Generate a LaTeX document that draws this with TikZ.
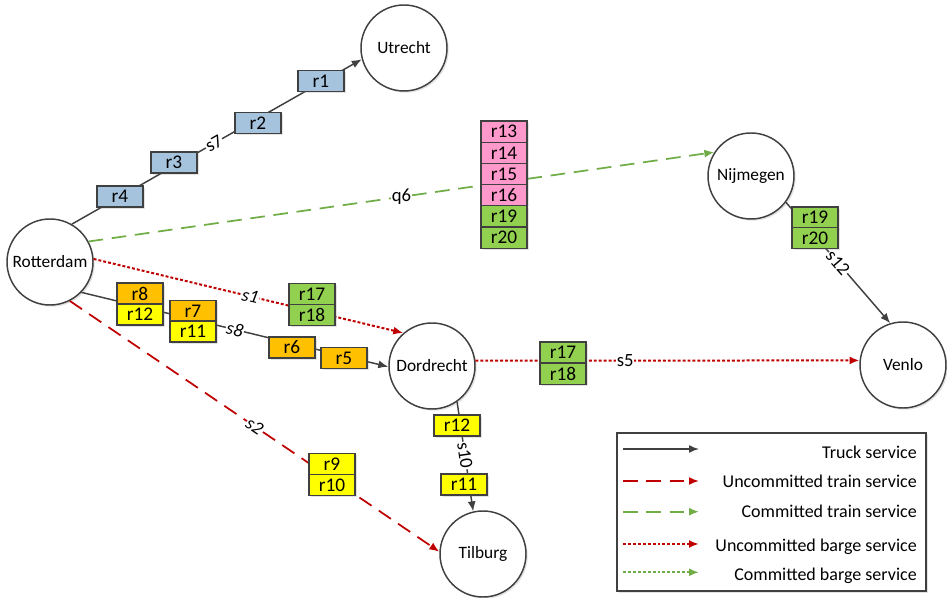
\documentclass[tikz,border=0pt]{standalone}
\usepackage{fontspec}
\setmainfont{Carlito}
\usetikzlibrary{arrows.meta,shadows}
\definecolor{ink}{HTML}{404040}
\definecolor{ured}{HTML}{C00000}
\definecolor{cgreen}{HTML}{70AD47}
\definecolor{rblue}{HTML}{A6C3DE}
\definecolor{rorange}{HTML}{FFC000}
\definecolor{ryellow}{HTML}{FFFF00}
\definecolor{rgreen}{HTML}{92D050}
\definecolor{rpink}{HTML}{FF99CC}
\begin{document}
\begin{tikzpicture}[x=0.75pt,y=-0.75pt,
  softshadow/.style={drop shadow={shadow xshift=1.3pt,shadow yshift=-1.3pt,opacity=0.22}},
  city/.style={circle,draw=ink,line width=1.1pt,fill=white,minimum size=64.5pt,
    inner sep=0pt,font=\fontsize{13}{15}\selectfont,softshadow},
  req/.style={draw=ink,line width=0.9pt,minimum width=34.5pt,minimum height=15.8pt,
    inner sep=0pt,font=\fontsize{14.5}{16}\selectfont,softshadow},
  blue/.style={req,fill=rblue},
  orange/.style={req,fill=rorange},
  yellow/.style={req,fill=ryellow},
  green/.style={req,fill=rgreen},
  pink/.style={req,fill=rpink},
  arr/.style={-{Latex[length=7.5pt,width=6pt]}},
  truck/.style={draw=ink,line width=1.1pt,arr},
  utrain/.style={draw=ured,line width=1.3pt,dash pattern=on 11pt off 6.5pt,arr},
  ctrain/.style={draw=cgreen,line width=1.3pt,dash pattern=on 11pt off 6.5pt,arr},
  ubarge/.style={draw=ured,line width=1.5pt,dash pattern=on 2.2pt off 1.5pt,arr},
  cbarge/.style={draw=cgreen,line width=1.5pt,dash pattern=on 2.2pt off 1.5pt,arr},
  lbl/.style={fill=white,inner sep=0.6pt,font=\fontsize{14}{16}\selectfont},
  legtext/.style={anchor=east,inner sep=0pt,font=\fontsize{13.5}{16}\selectfont},
]
\useasboundingbox (0,0) rectangle (947,598);

% terminals
\node[city] (rot) at (50,262)  {Rotterdam};
\node[city] (utr) at (404,48)  {Utrecht};
\node[city] (nij) at (751,176) {Nijmegen};
\node[city] (dor) at (432,366) {Dordrecht};
\node[city] (ven) at (903,365) {Venlo};
\node[city] (til) at (483,554) {Tilburg};

% services
\draw[truck]  (rot.60)  -- node[lbl,sloped,pos=0.49] {s7} (utr.195);
\draw[ctrain] (rot.28)  -- node[lbl,pos=0.5] {q6} (nij.147);
\draw[ubarge] (rot.4)   -- node[lbl,sloped,pos=0.506] {\itshape s1} (dor.131);
\draw[truck]  (rot.-44) -- node[lbl,sloped,pos=0.5] {\itshape s8} (dor.181);
\draw[utrain] (rot.-63) -- node[lbl,sloped,pos=0.5] {\itshape s2} (til.177);
\draw[ubarge] (dor.7)   -- node[lbl,pos=0.39] {s5} (ven.174);
\draw[truck]  (dor.-55) -- node[lbl,sloped,pos=0.49] {s10} (til.103);
\draw[truck]  (nij.-37) -- node[lbl,sloped,pos=0.5] {s12} (ven.107);

% requests on s7
\node[blue] (r1) at (321,81) {r1};
\node[blue] (r2) at (258,123) {r2};
\node[blue] (r3) at (174,162.5) {r3};
\node[blue] (r4) at (120,196.5) {r4};

% requests on s8
\node[orange] (r8)  at (140,293.5) {r8};
\node[yellow] (r12a) at (140,314.5) {r12};
\node[orange] (r7)  at (193,311) {r7};
\node[yellow] (r11a) at (193,331.5) {r11};
\node[orange] (r6)  at (292,347.5) {r6};
\node[orange] (r5)  at (344,358) {r5};

% requests on s1
\node[green] (r17a) at (312,294) {r17};
\node[green] (r18a) at (312,315) {r18};

% requests on s2
\node[yellow] (r9)  at (332,464) {r9};
\node[yellow] (r10) at (332,485) {r10};

% requests on s10
\node[yellow] (r12b) at (457,425.5) {r12};
\node[yellow] (r11b) at (464,484.5) {r11};

% requests on q6
\node[pink]  (r13)  at (504,131.6) {r13};
\node[pink]  (r14)  at (504,152.8) {r14};
\node[pink]  (r15)  at (504,174)   {r15};
\node[pink]  (r16)  at (504,195.2) {r16};
\node[green] (r19a) at (504,216.4) {r19};
\node[green] (r20a) at (504,237.6) {r20};

% requests on s12
\node[green] (r19b) at (815,217.5) {r19};
\node[green] (r20b) at (815,238)   {r20};

% requests on s5
\node[green] (r17b) at (563,352.5) {r17};
\node[green] (r18b) at (563,374)   {r18};

% legend
\node[draw=ink,line width=1.1pt,fill=white,minimum width=231.75pt,minimum height=118.5pt,
  inner sep=0pt,softshadow] (legend) at (771.5,512) {};
\coordinate (l1a) at (623,449);   \coordinate (l1b) at (699,449);
\coordinate (l2a) at (623,481);   \coordinate (l2b) at (699,481);
\coordinate (l3a) at (623,511.7); \coordinate (l3b) at (699,511.7);
\coordinate (l4a) at (623,544);   \coordinate (l4b) at (699,544);
\coordinate (l5a) at (623,572.3); \coordinate (l5b) at (699,572.3);
\draw[truck]  (l1a) -- (l1b);
\draw[utrain] (l2a) -- (l2b);
\draw[ctrain] (l3a) -- (l3b);
\draw[ubarge] (l4a) -- (l4b);
\draw[cbarge] (l5a) -- (l5b);
\node[legtext] (t1) at (917,452.7) {Truck service};
\node[legtext] (t2) at (917,481.7) {Uncommitted train service};
\node[legtext] (t3) at (917,511.7) {Committed train service};
\node[legtext] (t4) at (917,546.7) {Uncommitted barge service};
\node[legtext] (t5) at (917,575.7) {Committed barge service};
\end{tikzpicture}
\end{document}
